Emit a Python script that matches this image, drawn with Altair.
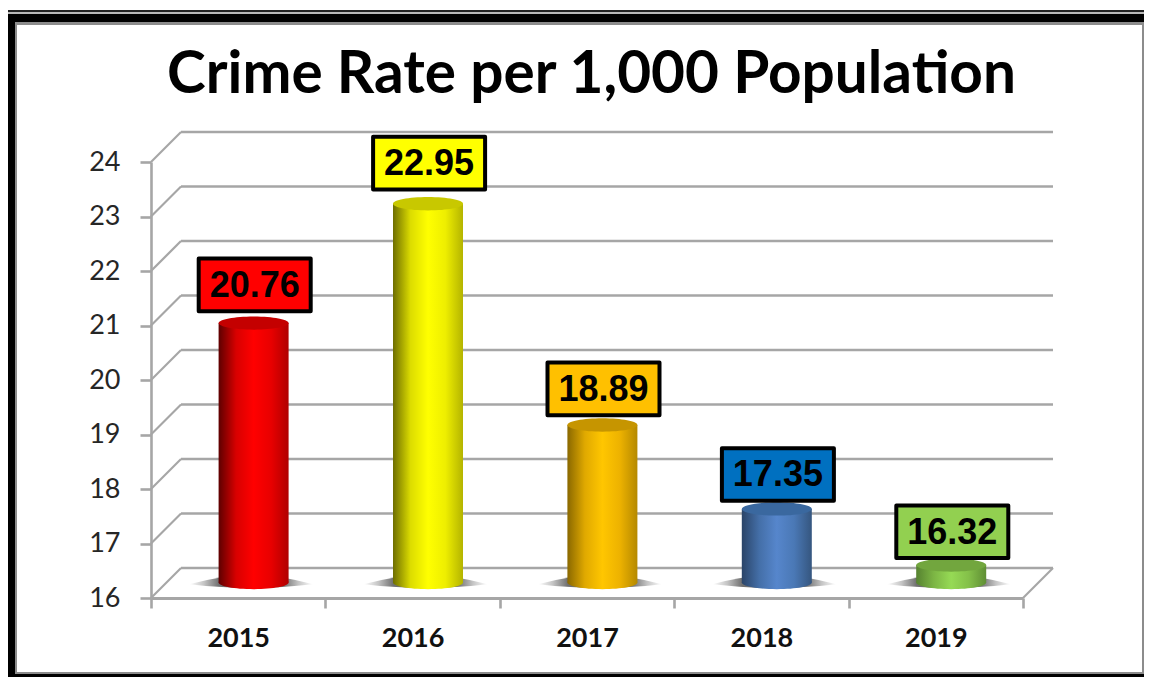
import altair as alt
import pandas as pd

years = ["2015", "2016", "2017", "2018", "2019"]
rates = [20.76, 22.95, 18.89, 17.35, 16.32]
ticks = [16, 17, 18, 19, 20, 21, 22, 23, 24]
box_fill = ["#FF0000", "#FFFF00", "#FFC000", "#0070C0", "#92D050"]
top_fill = ["#C40000", "#C8C800", "#C69500", "#3A689F", "#72A63E"]
side_stops = [
    ["#5E0000", "#D80000", "#FF0000", "#E80000", "#B00000"],
    ["#6E6E00", "#DCDC00", "#FFFF00", "#EEEE00", "#B4B400"],
    ["#8A6800", "#E0A900", "#FFC600", "#EDB200", "#B58900"],
    ["#2A4468", "#446FA8", "#5686CC", "#4A78B5", "#35567F"],
    ["#568230", "#7CB544", "#96DA55", "#84C049", "#5F8E34"],
]

UNIT = 54.5
DEPTH = 30 / UNIT
MID = 15.5 / UNIT
W, H = 872, 436
BW = 70

ELLIPSE = "M-1,0 A1,0.19 0 1 1 1,0 A1,0.19 0 1 1 -1,0 Z"
LENS = "M-1,0.03 Q-0.45,-0.12 0,-0.12 Q0.45,-0.12 1,0.03 Q0.45,0.09 0,0.09 Q-0.45,0.09 -1,0.03 Z"
BOX = "M-1,-0.47 L1,-0.47 L1,0.47 L-1,0.47 Z"

df = pd.DataFrame({"year": years, "value": rates})
xscale = alt.Scale(domain=years, paddingInner=0, paddingOuter=0)
yscale = alt.Scale(domain=[16, 24], nice=False, zero=False)
GRAY = "#A6A6A6"

yaxis = alt.Axis(
    values=ticks, grid=False, domainColor=GRAY, domainWidth=2.6, tickColor=GRAY,
    tickWidth=2.6, tickSize=11, labelPadding=20, labelFont="Lato", labelFontSize=27,
    labelColor="#262626", format="d", title=None,
)
xaxis = alt.Axis(
    labelAngle=0, tickBand="extent", tickColor=GRAY, tickWidth=2.6, tickSize=10,
    domainColor=GRAY, domainWidth=2.8, labelFont="Lato", labelFontWeight="bold",
    labelFontSize=27, labelColor="#111111", labelPadding=17, title=None,
)


def ye(field):
    return alt.Y(field, scale=yscale, axis=yaxis, title=None)


def deco(color, x0, y0, x1, y1):
    return alt.Chart(alt.Data(values=[{}])).mark_rect(color=color, opacity=1).encode(
        x=alt.value(x0 - 151), x2=alt.value(x1 - 151),
        y=alt.value(y0 - 162), y2=alt.value(y1 - 162),
    )


def grad(stops):
    n = len(stops) - 1
    return alt.LinearGradient(
        gradient="linear", x1=0, x2=1, y1=0, y2=0,
        stops=[alt.GradientStop(offset=i / n, color=c) for i, c in enumerate(stops)],
    )


frame = [
    deco("#222222", 8, 10, 1144, 12),
    deco("#B8B8B8", 8, 12, 1144, 14),
    deco("#000000", 8, 14, 1144, 22),
    deco("#000000", 8, 14, 15, 677),
    deco("#000000", 8, 674, 1144, 677),
    deco("#8C8C8C", 15, 22, 1144, 25),
    deco("#8C8C8C", 15, 22, 17, 674),
    deco("#8C8C8C", 15, 672, 1144, 674),
    deco("#8C8C8C", 1142, 22, 1144, 674),
]

grid = alt.Chart(pd.DataFrame({"tick": ticks})).transform_calculate(back=f"datum.tick + {DEPTH}")
back_lines = grid.mark_rule(color=GRAY, strokeWidth=2.6).encode(
    x=alt.value(30), x2=alt.value(W + 30), y=ye("back:Q"),
)
diagonals = grid.mark_rule(color=GRAY, strokeWidth=2.2).encode(
    x=alt.value(0), x2=alt.value(30), y=ye("tick:Q"), y2="back:Q",
)
floor_edge = alt.Chart(pd.DataFrame({"tick": ticks[:1]})).transform_calculate(
    back=f"datum.tick + {DEPTH}"
).mark_rule(color=GRAY, strokeWidth=2.2).encode(
    x=alt.value(W), x2=alt.value(W + 30), y=ye("tick:Q"), y2="back:Q",
)

base = alt.Chart(df).transform_calculate(
    top=f"datum.value + {MID}", floor=f"16 + {MID}",
    box="datum.value + 0.89 + (datum.value - 16) * 0.02",
)
xe = alt.X("year:N", scale=xscale, axis=xaxis, title=None, sort=years)

shadow = base.mark_point(
    shape=LENS, filled=True, size=124 ** 2, xOffset=13, opacity=1,
    color=alt.LinearGradient(
        gradient="linear", x1=0, x2=1, y1=0, y2=0,
        stops=[
            alt.GradientStop(offset=0, color="#FFFFFF"),
            alt.GradientStop(offset=0.12, color="#C4C4C4"),
            alt.GradientStop(offset=0.24, color="#707070"),
            alt.GradientStop(offset=0.76, color="#707070"),
            alt.GradientStop(offset=0.88, color="#C4C4C4"),
            alt.GradientStop(offset=1, color="#FFFFFF"),
        ],
    ),
).encode(x=xe, y=ye("floor:Q"))

layers = frame + [back_lines, diagonals, floor_edge, shadow]
for i, year in enumerate(years):
    one = base.transform_filter(alt.datum.year == year)
    layers += [
        one.mark_point(shape=ELLIPSE, filled=True, size=BW ** 2, xOffset=15.4, opacity=1,
                       color=grad(side_stops[i])).encode(x=xe, y=ye("floor:Q")),
        one.mark_bar(size=BW, xOffset=15.4, color=grad(side_stops[i])).encode(
            x=xe, y=ye("top:Q"), y2="floor:Q"),
        one.mark_point(shape=ELLIPSE, filled=True, size=BW ** 2, xOffset=15.4, opacity=1,
                       color=top_fill[i]).encode(x=xe, y=ye("top:Q")),
        one.mark_point(shape=BOX, size=112 ** 2, xOffset=16.5, opacity=1, filled=False,
                       fill=box_fill[i], stroke="#000000", strokeWidth=4,
                       strokeJoin="round").encode(x=xe, y=ye("box:Q")),
        one.mark_text(xOffset=16.5, dy=1, font="Liberation Sans", fontWeight="bold", fontSize=36,
                      color="#000000", baseline="middle").encode(
            x=xe, y=ye("box:Q"), text=alt.Text("value:Q", format=".2f")),
    ]

chart = alt.layer(*layers).properties(
    width=W, height=H,
    title=alt.TitleParams(
        "Crime Rate per 1,000 Population", font="Lato", fontSize=58.5, fontWeight="bold",
        color="#000000", anchor="middle", dx=4.5, offset=-141, baseline="alphabetic",
    ),
    padding={"left": 143, "top": 154, "right": 121, "bottom": 79},
    autosize=alt.AutoSizeParams(type="none"),
    background="#FFFFFF",
).configure_view(stroke=None)

chart.save("out.html", embed_options={"renderer": "svg", "actions": False})
